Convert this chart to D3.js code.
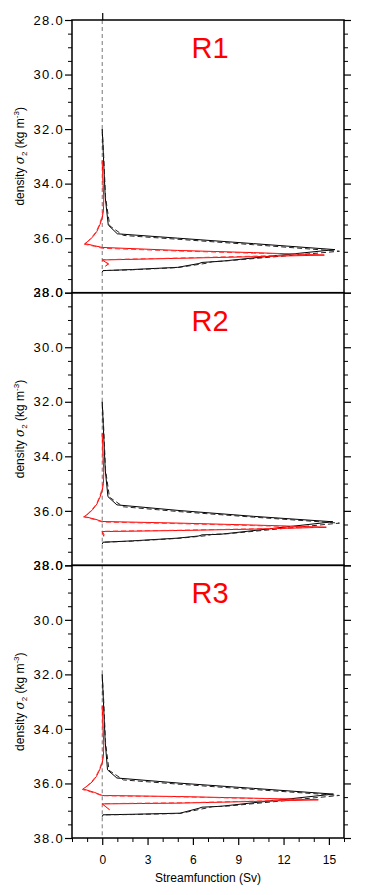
<!DOCTYPE html>
<html>
<head>
<meta charset="utf-8">
<script src="https://cdn.jsdelivr.net/npm/d3@7/dist/d3.min.js"></script>
<style>
html,body{margin:0;padding:0;background:#fff;}
svg{display:block;font-family:"Liberation Sans",Arial,Helvetica,sans-serif;}
</style>
</head>
<body>
<div id="chart"></div>
<script>
// ---- data (Streamfunction Sv, density sigma2) ----
const panelNames = ["R1", "R2", "R3"];
const xMajorTicks = [0, 3, 6, 9, 12, 15];
const yMajorTicks = [28, 30, 32, 34, 36, 38];

const r1BlackSolid = [[0.0,32.0],[0.08,33.0],[0.2,34.5],[0.4,35.52],[1.0,35.84],[5.0,36.0],[10.0,36.2],[15.4,36.42],[7.8,36.85],[6.6,36.89],[6.4,36.93],[5.0,37.07],[2.0,37.15],[0.05,37.19],[0.0,37.25]];
const r1BlackDashed = [[0.0,32.0],[0.1,33.0],[0.22,34.5],[0.5,35.55],[1.4,35.9],[5.0,36.04],[10.0,36.24],[15.7,36.48],[8.3,36.83],[7.3,36.86],[6.9,36.92],[5.0,37.08],[2.0,37.16],[0.05,37.19]];
const r1RedSolid = [[0.0,33.15],[0.06,34.0],[0.1,34.6],[0.08,35.0],[0.0,35.25],[-0.15,35.5],[-0.35,35.75],[-0.62,35.95],[-0.9,36.1],[-1.15,36.2],[-0.5,36.28],[0.0,36.34],[5.0,36.45],[10.0,36.53],[14.7,36.62],[10.0,36.68],[5.0,36.74],[0.0,36.8],[0.42,36.95],[0.2,37.03]];
const r1RedDashed = [[0.0,33.2],[0.05,34.0],[0.08,34.6],[0.05,35.0],[-0.05,35.27],[-0.2,35.52],[-0.4,35.76],[-0.68,35.96],[-0.95,36.11],[-1.2,36.22],[-0.5,36.3],[0.0,36.37],[5.0,36.47],[10.0,36.55],[14.3,36.6],[10.0,36.66],[5.0,36.73],[0.0,36.79],[0.4,36.94],[0.25,37.0]];

const r2BlackSolid = [[0.0,32.0],[0.08,33.0],[0.2,34.5],[0.38,35.48],[0.97,35.78],[5.15,35.99],[10.0,36.2],[15.26,36.4],[7.8,36.86],[6.6,36.88],[6.4,36.92],[5.0,37.0],[2.0,37.1],[0.05,37.15],[0.0,37.22]];
const r2BlackDashed = [[0.0,32.0],[0.1,33.0],[0.22,34.5],[0.48,35.5],[1.4,35.85],[5.15,36.03],[10.0,36.23],[15.7,36.45],[8.3,36.84],[7.3,36.86],[6.9,36.91],[5.0,37.01],[2.0,37.11],[0.05,37.15]];
const r2RedSolid = [[0.0,33.15],[0.06,34.0],[0.1,34.6],[0.08,35.0],[0.0,35.25],[-0.15,35.5],[-0.35,35.75],[-0.64,35.96],[-0.93,36.11],[-1.19,36.21],[-0.5,36.3],[0.0,36.39],[5.15,36.45],[10.0,36.52],[14.83,36.6],[10.0,36.67],[5.15,36.72],[0.0,36.76],[0.1,36.94]];
const r2RedDashed = [[0.0,33.2],[0.05,34.0],[0.08,34.6],[0.05,35.0],[-0.05,35.27],[-0.2,35.52],[-0.4,35.76],[-0.7,35.97],[-0.98,36.12],[-1.24,36.22],[-0.5,36.32],[0.0,36.41],[5.15,36.47],[10.0,36.54],[14.4,36.6],[10.0,36.66],[5.15,36.71],[0.0,36.75],[0.15,36.9]];

const r3BlackSolid = [[0.0,32.0],[0.08,33.0],[0.2,34.5],[0.35,35.5],[0.97,35.8],[5.15,35.99],[10.0,36.18],[15.3,36.39],[7.8,36.84],[6.6,36.87],[6.4,36.91],[5.15,37.09],[2.0,37.13],[0.05,37.15],[0.0,37.22]];
const r3BlackDashed = [[0.0,32.0],[0.1,33.0],[0.22,34.5],[0.45,35.52],[1.4,35.87],[5.15,36.03],[10.0,36.22],[15.7,36.44],[8.3,36.83],[7.3,36.85],[6.9,36.9],[5.15,37.1],[2.0,37.14],[0.05,37.15]];
const r3RedSolid = [[0.0,33.15],[0.06,34.0],[0.1,34.6],[0.08,35.0],[0.0,35.25],[-0.17,35.5],[-0.38,35.74],[-0.68,35.95],[-0.98,36.09],[-1.27,36.2],[-0.5,36.33],[0.0,36.44],[5.15,36.48],[10.0,36.54],[14.3,36.6],[10.0,36.66],[5.15,36.72],[0.0,36.75],[0.5,36.97]];
const r3RedDashed = [[0.0,33.2],[0.05,34.0],[0.08,34.6],[0.05,35.0],[-0.05,35.27],[-0.22,35.52],[-0.43,35.75],[-0.74,35.96],[-1.03,36.1],[-1.32,36.22],[-0.5,36.35],[0.0,36.45],[5.15,36.49],[10.0,36.55],[13.8,36.59],[10.0,36.65],[5.15,36.71],[0.0,36.74],[0.45,36.95]];

const panelCurves = [
  [r1BlackSolid, r1BlackDashed, r1RedSolid, r1RedDashed],
  [r2BlackSolid, r2BlackDashed, r2RedSolid, r2RedDashed],
  [r3BlackSolid, r3BlackDashed, r3RedSolid, r3RedDashed]
];
const curveStyles = [
  {color:"#000", dash:null},
  {color:"#222", dash:"5,3"},
  {color:"#ff0000", dash:null},
  {color:"#ff3030", dash:"5,3"}
];

// ---- layout ----
const W = 365, H = 895;
const left = 72, right = 344;
const tops = [20, 292.7, 565.3];
const ph = 272.7;

const svg = d3.select("#chart").append("svg").attr("width", W).attr("height", H);

const x = d3.scaleLinear().domain([-2, 16]).range([left, right]);
const xMinor = d3.range(-2, 16.01, 1).filter(v => !xMajorTicks.includes(v));
const yMinorVals = d3.range(28, 38.01, 0.5).filter(v => !yMajorTicks.includes(v));

const line = (y) => d3.line().x(d => x(d[0])).y(d => y(d[1]));

panelCurves.forEach((curves, i) => {
  const top = tops[i];
  const y = d3.scaleLinear().domain([28, 38]).range([top, top + ph]);
  const g = svg.append("g");

  // zero reference line
  g.append("line")
    .attr("x1", x(0)).attr("x2", x(0))
    .attr("y1", top).attr("y2", top + ph)
    .attr("stroke", "#555").attr("stroke-width", 0.8)
    .attr("stroke-dasharray", "4,3");

  // curves
  curves.forEach((c, k) => {
    g.append("path")
      .attr("d", line(y)(c))
      .attr("fill", "none")
      .attr("stroke", curveStyles[k].color)
      .attr("stroke-width", 1)
      .attr("stroke-linejoin", "round")
      .attr("stroke-dasharray", curveStyles[k].dash);
  });

  // left axis major
  const la = g.append("g").attr("transform", `translate(${left},0)`)
    .call(d3.axisLeft(y).tickValues(yMajorTicks).tickFormat(d3.format(".1f")).tickSize(7).tickPadding(1));
  la.select(".domain").remove();
  la.selectAll("line").attr("stroke", "#000").attr("stroke-width", 1.2);
  la.selectAll("text").attr("font-size", 13).attr("fill", "#000").style("letter-spacing", "1.3px")
    .attr("font-family", "'Liberation Sans',Arial,sans-serif");
  const lm = g.append("g").attr("transform", `translate(${left},0)`)
    .call(d3.axisLeft(y).tickValues(yMinorVals).tickFormat("").tickSize(4));
  lm.select(".domain").remove();
  lm.selectAll("line").attr("stroke", "#000").attr("stroke-width", 1);

  // right axis
  const ra = g.append("g").attr("transform", `translate(${right},0)`)
    .call(d3.axisRight(y).tickValues(yMajorTicks).tickFormat("").tickSize(7));
  ra.select(".domain").remove();
  ra.selectAll("line").attr("stroke", "#000").attr("stroke-width", 1.2);
  const rm = g.append("g").attr("transform", `translate(${right},0)`)
    .call(d3.axisRight(y).tickValues(yMinorVals).tickFormat("").tickSize(4));
  rm.select(".domain").remove();
  rm.selectAll("line").attr("stroke", "#000").attr("stroke-width", 1);

  if (i === 0) {
    const ta = g.append("g").attr("transform", `translate(0,${top})`)
      .call(d3.axisTop(x).tickValues([0]).tickFormat("").tickSize(7));
    ta.select(".domain").remove();
    ta.selectAll("line").attr("stroke", "#000").attr("stroke-width", 1.2);
  }
  if (i === 2) {
    const ba = g.append("g").attr("transform", `translate(0,${top + ph})`)
      .call(d3.axisBottom(x).tickValues(xMajorTicks).tickSize(7).tickPadding(10));
    ba.select(".domain").remove();
    ba.selectAll("line").attr("stroke", "#000").attr("stroke-width", 1.2);
    ba.selectAll("text").attr("font-size", 12).attr("fill", "#000")
      .attr("font-family", "'Liberation Sans',Arial,sans-serif");
    const bm = g.append("g").attr("transform", `translate(0,${top + ph})`)
      .call(d3.axisBottom(x).tickValues(xMinor).tickFormat("").tickSize(4));
    bm.select(".domain").remove();
    bm.selectAll("line").attr("stroke", "#000").attr("stroke-width", 1);
  }

  // frame
  g.append("rect")
    .attr("x", left).attr("y", top).attr("width", right - left).attr("height", ph)
    .attr("fill", "none").attr("stroke", "#000").attr("stroke-width", 1.5);

  // panel title
  g.append("text")
    .attr("x", 210).attr("y", top + 38)
    .attr("text-anchor", "middle")
    .attr("font-size", 29).attr("fill", "#ff0000")
    .text(panelNames[i]);

  // y label
  const yl = g.append("text")
    .attr("transform", `translate(24,${top + ph / 2}) rotate(-90)`)
    .attr("text-anchor", "middle")
    .attr("font-size", 12).attr("fill", "#000");
  yl.append("tspan").text("density ");
  yl.append("tspan").attr("font-style", "italic").attr("font-family", "'DejaVu Serif',serif").text("σ");
  yl.append("tspan").attr("font-size", 8).attr("dy", 3).text("2");
  yl.append("tspan").attr("dy", -3).text(" (kg m");
  yl.append("tspan").attr("font-size", 8).attr("dy", -5).text("-3");
  yl.append("tspan").attr("dy", 5).text(")");
});

// x-axis title
svg.append("text")
  .attr("x", 208).attr("y", 882)
  .attr("text-anchor", "middle")
  .attr("font-size", 12).attr("fill", "#000")
  .text("Streamfunction (Sv)");
</script>
</body>
</html>
